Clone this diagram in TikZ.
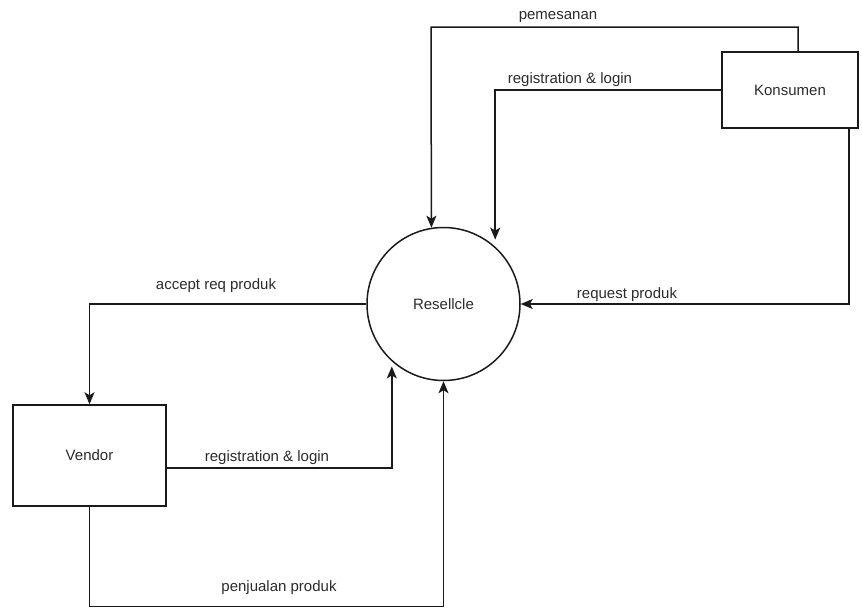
\documentclass[tikz,border=0pt]{standalone}
\usepackage{fontspec}
\setmainfont{Liberation Sans}
\usetikzlibrary{arrows.meta}
\definecolor{ink}{HTML}{1A1A1A}
\definecolor{txt}{HTML}{2B2B2B}
\begin{document}
\begin{tikzpicture}[x=1pt,y=-1pt,
  font=\fontsize{15}{18}\selectfont,
  entity/.style={draw=ink,line width=1.5pt,rectangle,text=txt},
  process/.style={draw=ink,line width=1.5pt,circle,minimum size=153pt,inner sep=0pt,text=txt},
  flow/.style={draw=ink,line width=1.5pt,-{Stealth[length=12pt,width=10pt,inset=3pt]}},
  lbl/.style={text=txt,inner sep=0pt}]
\useasboundingbox (0,0) rectangle (862,608);

% entities and the process
\node[process] (res) at (443.5,304) {Resellcle};
\node[entity,minimum width=136pt,minimum height=76pt] (kon) at (790,90) {Konsumen};
\node[entity,minimum width=153pt,minimum height=101pt] (ven) at (89.5,455.5) {Vendor};

% data flows
\coordinate (ptop) at (431,27);
\draw[flow] ([xshift=8pt]kon.north) |- (ptop) -- (res.99.4);
\draw[flow,shorten >=7pt] (kon.west) -| (res.48);
\draw[flow] ([xshift=59pt]kon.south) |- (res.east);
\draw[flow] (res.west) -| (ven.north);
\draw[flow,shorten >=5pt] ([yshift=-12.5pt]ven.east) -| (res.228.7);
\coordinate (pbot) at (89.5,606.5);
\draw[flow] (ven.south) -- (pbot) -| (res.south);

% flow labels
\node[lbl] (l1) at (558,17) {pemesanan};
\node[lbl] (l2) at (570,80) {registration \& login};
\node[lbl] (l3) at (627,295) {request produk};
\node[lbl] (l4) at (216,286) {accept req produk};
\node[lbl] (l5) at (267,458) {registration \& login};
\node[lbl] (l6) at (279,588) {penjualan produk};
\end{tikzpicture}
\end{document}
